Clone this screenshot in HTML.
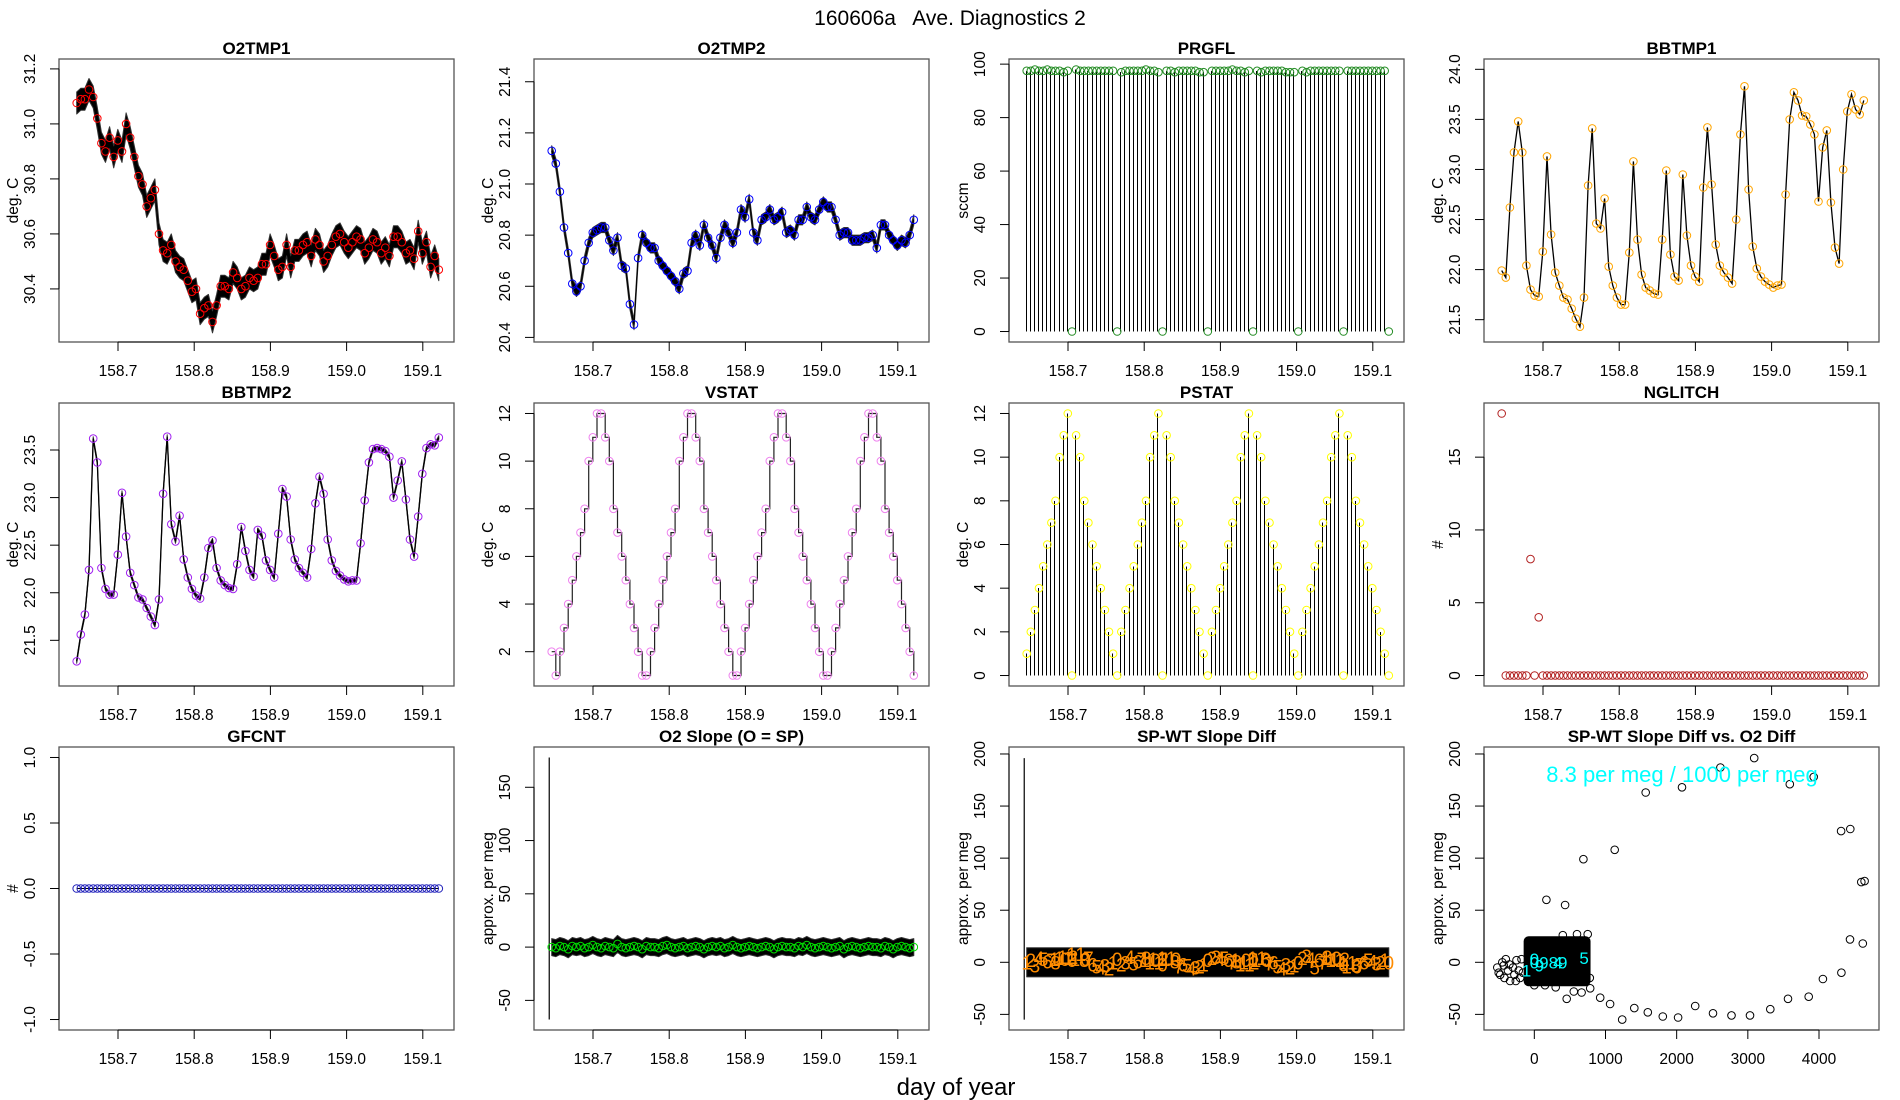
<!DOCTYPE html>
<html><head><meta charset="utf-8"><title>160606a Ave. Diagnostics 2</title>
<style>
html,body{margin:0;padding:0;background:#fff;}
svg{display:block;font-family:"Liberation Sans",Arial,sans-serif;}
text{font-family:"Liberation Sans",Arial,sans-serif;}
</style></head>
<body>
<svg id="chart" xmlns="http://www.w3.org/2000/svg" width="1900" height="1100" viewBox="0 0 1900 1100">
<rect x="0" y="0" width="1900" height="1100" fill="#fff"/>
<text x="950" y="25" font-size="21" text-anchor="middle" style="white-space:pre">160606a   Ave. Diagnostics 2</text>
<text x="956" y="1095" font-size="24" text-anchor="middle">day of year</text>
</svg>
<script>
// ---- shared sample times ----
const sampleStart = 158.6458;
const sampleStep = 0.0054;
const sampleCount = 89;
const xTickVals = [158.7, 158.8, 158.9, 159.0, 159.1];
const xTickLabels = ["158.7", "158.8", "158.9", "159.0", "159.1"];

// ---- series ----
const o2tmp1 = [31.076,31.09,31.09,31.125,31.098,31.02,30.93,30.90,30.95,30.88,
30.94,30.90,31.00,30.95,30.88,30.81,30.78,30.70,30.73,30.76,
30.60,30.54,30.53,30.56,30.50,30.48,30.47,30.43,30.39,30.40,
30.31,30.33,30.34,30.28,30.34,30.41,30.41,30.40,30.46,30.44,
30.40,30.41,30.44,30.43,30.44,30.49,30.49,30.56,30.52,30.47,
30.48,30.56,30.48,30.54,30.54,30.56,30.57,30.52,30.58,30.56,
30.50,30.52,30.56,30.59,30.60,30.57,30.55,30.57,30.59,30.58,
30.53,30.55,30.58,30.57,30.53,30.55,30.52,30.59,30.59,30.57,
30.53,30.54,30.51,30.61,30.53,30.57,30.48,30.52,30.47];
const o2tmp2 = [21.13,21.08,20.97,20.83,20.73,20.61,20.58,20.60,20.70,20.77,
20.81,20.82,20.83,20.83,20.78,20.74,20.79,20.68,20.67,20.53,
20.45,20.71,20.80,20.77,20.75,20.75,20.70,20.68,20.66,20.64,
20.62,20.59,20.65,20.66,20.77,20.80,20.76,20.84,20.79,20.76,
20.71,20.79,20.84,20.81,20.77,20.81,20.90,20.87,20.94,20.81,
20.78,20.86,20.87,20.90,20.86,20.87,20.89,20.81,20.82,20.80,
20.86,20.86,20.91,20.87,20.86,20.90,20.93,20.91,20.91,20.86,
20.80,20.81,20.81,20.78,20.78,20.78,20.79,20.79,20.80,20.75,
20.84,20.84,20.80,20.78,20.76,20.78,20.77,20.80,20.86];
const prgfl = [97.5,97.5,98,97.5,97.5,98,97.5,97.5,97.5,97,97.5,0,
98,97.5,97.5,97.5,97.5,97.5,97.5,97.5,97.5,97.5,0,
97,97.5,97.5,97.5,97.5,97.5,98,97.5,97.5,97,0,
97.5,97.5,97,97.5,97.5,97.5,97.5,97.5,97,97,0,
97.5,97.5,97.5,97.5,97.5,98,97.5,97.5,97,97.5,0,
97.5,97,97.5,97.5,97.5,97.5,97.5,97,97,97,0,
97.5,97,97.5,97.5,97.5,97.5,97.5,97.5,97.5,97.5,0,
97.5,97.5,97.5,97.5,97.5,97.5,97.5,97.5,97.5,97.5,0];
const bbtmp1 = [21.99,21.92,22.62,23.17,23.48,23.17,22.04,21.80,21.74,21.73,
22.18,23.13,22.35,21.97,21.84,21.72,21.70,21.61,21.51,21.43,
21.72,22.84,23.41,22.46,22.41,22.71,22.03,21.84,21.72,21.65,
21.65,22.17,23.08,22.30,21.95,21.82,21.79,21.76,21.75,22.30,
22.99,22.15,21.93,21.89,22.95,22.34,22.04,21.93,21.88,22.82,
23.42,22.85,22.25,22.04,21.97,21.92,21.86,22.50,23.35,23.83,
22.80,22.23,22.01,21.93,21.88,21.85,21.82,21.84,21.85,22.75,
23.50,23.77,23.69,23.54,23.53,23.45,23.35,22.68,23.22,23.39,
22.67,22.22,22.06,23.00,23.58,23.75,23.60,23.55,23.69];
const bbtmp2 = [21.28,21.56,21.77,22.24,23.62,23.37,22.26,22.04,21.98,21.98,
22.40,23.05,22.59,22.21,22.08,21.95,21.93,21.84,21.75,21.66,
21.93,23.04,23.64,22.72,22.54,22.81,22.35,22.16,22.04,21.97,
21.94,22.16,22.47,22.55,22.26,22.13,22.08,22.05,22.04,22.30,
22.69,22.44,22.24,22.17,22.66,22.60,22.34,22.24,22.16,22.62,
23.09,23.01,22.56,22.35,22.26,22.21,22.16,22.46,22.94,23.22,
23.04,22.56,22.34,22.23,22.18,22.14,22.12,22.13,22.13,22.52,
22.97,23.37,23.51,23.52,23.51,23.49,23.43,23.00,23.18,23.38,
22.98,22.56,22.38,22.80,23.25,23.52,23.56,23.55,23.63];
const vstat = [2,1,
2,3,4,5,6,7,8,10,11,12,12,11,10,8,7,6,5,4,3,2,1,1,
2,3,4,5,6,7,8,10,11,12,12,11,10,8,7,6,5,4,3,2,1,1,
2,3,4,5,6,7,8,10,11,12,12,11,10,8,7,6,5,4,3,2,1,1,
2,3,4,5,6,7,8,10,11,12,12,11,10,8,7,6,5,4,3,2,1];
const pstat = [1,2,3,4,5,6,7,8,10,11,12,0,11,10,8,7,6,5,4,3,2,1,0,
2,3,4,5,6,7,8,10,11,12,0,11,10,8,7,6,5,4,3,2,1,0,
2,3,4,5,6,7,8,10,11,12,0,11,10,8,7,6,5,4,3,2,1,0,
2,3,4,5,6,7,8,10,11,12,0,11,10,8,7,6,5,4,3,2,1,0];
const nglitch = [18,0,0,0,0,0,0,8,0,4,
0,0,0,0,0,0,0,0,0,0,0,0,0,0,0,0,0,0,0,0,
0,0,0,0,0,0,0,0,0,0,0,0,0,0,0,0,0,0,0,0,
0,0,0,0,0,0,0,0,0,0,0,0,0,0,0,0,0,0,0,0,
0,0,0,0,0,0,0,0,0,0,0,0,0,0,0,0,0,0,0];
const gfcnt = [0,0,0,0,0,0,0,0,0,0,0,0,0,0,0,0,0,0,0,0,0,0,0,0,0,0,0,0,0,0,
0,0,0,0,0,0,0,0,0,0,0,0,0,0,0,0,0,0,0,0,0,0,0,0,0,0,0,0,0,0,
0,0,0,0,0,0,0,0,0,0,0,0,0,0,0,0,0,0,0,0,0,0,0,0,0,0,0,0,0];
const o2slope = [0,-1,1,0,-2,1,0,1,-1,0,2,0,-1,1,0,-1,3,0,-1,0,1,0,-2,1,0,0,-1,1,2,0,
-1,0,1,-1,0,1,0,-2,0,1,0,1,-1,0,2,0,-1,0,1,0,-1,0,1,0,-2,0,1,0,0,-1,
1,0,2,0,-1,0,1,0,-1,0,1,-2,0,1,0,-1,0,1,0,0,-1,1,0,-2,0,1,0,-1,0];
const o2slopeSpike = [-68, 178];
const spwt = [0,2,-3,4,3,1,2,0,3,4,5,2,8,3,2,4,-2,-4,-5,-3,-6,0,3,-2,0,5,-1,1,3,4,
2,0,3,-2,4,3,1,-4,-2,-3,-6,-5,-4,-2,2,4,5,3,4,2,0,1,2,-2,0,3,4,2,3,-1,
0,-4,-6,-2,-5,-3,0,4,6,3,-5,2,0,5,4,2,3,-2,0,-4,-3,-2,0,2,1,-1,0,2,0];
const spwtSpike = [-55, 196];
// scatter panel
const scatX = [170,433,690,1130,1565,2075,2615,3090,3590,3925,4310,4440,4595,4640,4435,4615,4315,4055,3855,3565,3315,3030,2770,2510,2260,2020,1805,1595,1405,1235,1065,925,785,665,555,455,
-520,-480,-450,-420,-400,-370,-340,-300,-280,-250,-220,-200,-180,-160,-500,-430,-350,-260,0,150,300,20,400,600,750,780,450];
const scatY = [60,55,99,108,163,168,187,196,171,178,126,128,77,78,22,18,-10,-16,-33,-35,-45,-51,-51,-49,-42,-53,-52,-48,-44,-55,-40,-34,-25,-29,-28,-35,
-5,-12,0,-15,3,-8,-18,-5,-12,2,-8,-15,3,-10,-10,-3,-2,-18,-22,-22,-24,20,26,27,27,-15,-18];
const clusterBounds = [-150, 790, -23, 25];
const cyanLabelX = [-110, 0, 70, 200, 330, 700];
const cyanLabelY = [-8, 3, -3, 0, 0, 4];
const cyanLabelText = ["1", "0", "9", "0989", "4", "5"];

const NS = "http://www.w3.org/2000/svg";
const svg = document.getElementById("chart");
const XMIN = 158.62257, XMAX = 159.14094;
const colX = [59, 534, 1009, 1484], rowY = [59, 403, 747], BW = 395, BH = 283;
function el(tag, attrs, parent) {
  const e = document.createElementNS(NS, tag);
  for (const k in attrs) e.setAttribute(k, attrs[k]);
  parent.appendChild(e);
  return e;
}
function times(n) { const t = []; for (let i = 0; i < n; i++) t.push(sampleStart + i * sampleStep); return t; }

function panel(p) {
  const x0 = colX[p.col], y0 = rowY[p.row];
  const xlim = p.xlim || [XMIN, XMAX];
  const xs = v => x0 + (v - xlim[0]) / (xlim[1] - xlim[0]) * BW;
  const ys = v => y0 + BH - (v - p.ylim[0]) / (p.ylim[1] - p.ylim[0]) * BH;
  const g = el("g", {}, svg);
  
  
  const clip = el("clipPath", {id: "clip-" + p.name}, g);
  
  
  const cr = el("rect", {x: x0, y: y0, width: BW, height: BH}, clip);
  
  
  const plot = el("g", {"clip-path": "url(#clip-" + p.name + ")"}, g);
  
  
  const box = el("rect", {x: x0, y: y0, width: BW, height: BH, fill: "none", stroke: "#555", "stroke-width": 1.3}, g);
  
  
  const tt = el("text", {x: x0 + BW / 2, y: y0 - 5, "font-size": 17, "font-weight": "bold", "text-anchor": "middle"}, g);
  tt.textContent = p.title;
  
  
  const xt = p.xt || xTickVals, xtl = p.xtl || xTickLabels;
  const xa = el("line", {x1: xs(xt[0]), x2: xs(xt[xt.length - 1]), y1: y0 + BH, y2: y0 + BH, stroke: "#000", "stroke-width": 1}, g);
  
  
  xt.forEach((v, i) => {
    const tk = el("line", {x1: xs(v), x2: xs(v), y1: y0 + BH, y2: y0 + BH + 9, stroke: "#000"}, g);
    
    
    const tl = el("text", {x: xs(v), y: y0 + BH + 34, "font-size": 15.5, "text-anchor": "middle"}, g);
    tl.textContent = xtl[i];
    
    
  });
  const yt = p.yt;
  const ya = el("line", {x1: x0, x2: x0, y1: ys(yt[0]), y2: ys(yt[yt.length - 1]), stroke: "#000"}, g);
  
  
  yt.forEach((v, i) => {
    const tk = el("line", {x1: x0 - 9, x2: x0, y1: ys(v), y2: ys(v), stroke: "#000"}, g);
    
    
    const tl = el("text", {x: 0, y: 0, "font-size": 15.5, "text-anchor": "middle", transform: "translate(" + (x0 - 24) + "," + ys(v) + ") rotate(-90)"}, g);
    tl.textContent = p.ytl[i];
    
    
  });
  const yl = el("text", {x: 0, y: 0, "font-size": 15.5, "text-anchor": "middle", transform: "translate(" + (x0 - 41) + "," + (y0 + BH / 2) + ") rotate(-90)"}, g);
  yl.textContent = p.ylab;
  
  
  return {xs, ys, plot, g};
}

function line(ax, t, v, name, stroke, sw) {
  const pts = t.map((ti, i) => ax.xs(ti).toFixed(1) + "," + ax.ys(v[i]).toFixed(1)).join(" ");
  const pl = el("polyline", {points: pts, fill: "none", stroke: stroke || "#000", "stroke-width": sw || 1}, ax.plot);
  
  
}
function band(ax, t, v, amp, name) {
  const up = t.map((ti, i) => ax.xs(ti).toFixed(1) + "," + ax.ys(v[i] + amp).toFixed(1));
  const dn = t.map((ti, i) => ax.xs(ti).toFixed(1) + "," + ax.ys(v[i] - amp).toFixed(1)).reverse();
  const pg = el("polygon", {points: up.concat(dn).join(" "), fill: "#000", stroke: "#333", "stroke-width": 1, "stroke-linejoin": "round"}, ax.plot);
  
  
}
function circles(ax, t, v, color, name) {
  t.forEach((ti, i) => {
    if (v[i] === undefined) return;
    const c = el("circle", {cx: ax.xs(ti).toFixed(1), cy: ax.ys(v[i]).toFixed(1), r: 3.8, fill: "none", stroke: color, "stroke-width": 1}, ax.plot);
    
    
  });
}
function bars(ax, t, v, name) {
  t.forEach((ti, i) => {
    const x = Math.round(ax.xs(ti - sampleStep * 0.25)) + 0.5;
    const b = el("line", {x1: x, x2: x, y1: ax.ys(0), y2: ax.ys(v[i]), stroke: "#000", "stroke-width": 1, "shape-rendering": "crispEdges"}, ax.plot);
    
    
  });
}
function spike(ax, t, lohi, name) {
  const s = el("line", {x1: ax.xs(t), x2: ax.xs(t), y1: ax.ys(lohi[0]), y2: ax.ys(lohi[1]), stroke: "#000", "stroke-width": 1.2}, ax.plot);
  
  
}
function sub(arr) { return times(Math.min(arr.length, sampleCount)); }

let ax = panel({name: "o2tmp1", col: 0, row: 0, title: "O2TMP1", ylab: "deg. C", ylim: [30.207, 31.236], yt: [30.4, 30.6, 30.8, 31.0, 31.2], ytl: ["30.4", "30.6", "30.8", "31.0", "31.2"]});
band(ax, sub(o2tmp1), o2tmp1, 0.04, "o2tmp1-noise-band");
line(ax, sub(o2tmp1), o2tmp1, "o2tmp1-line");
circles(ax, sub(o2tmp1), o2tmp1, "#ff0000", "o2tmp1-point");

ax = panel({name: "o2tmp2", col: 1, row: 0, title: "O2TMP2", ylab: "deg. C", ylim: [20.382, 21.489], yt: [20.4, 20.6, 20.8, 21.0, 21.2, 21.4], ytl: ["20.4", "20.6", "20.8", "21.0", "21.2", "21.4"]});
band(ax, sub(o2tmp2), o2tmp2, 0.02, "o2tmp2-noise-band");
line(ax, sub(o2tmp2), o2tmp2, "o2tmp2-line");
circles(ax, sub(o2tmp2), o2tmp2, "#0000ff", "o2tmp2-point");

ax = panel({name: "prgfl", col: 2, row: 0, title: "PRGFL", ylab: "sccm", ylim: [-3.92, 101.92], yt: [0, 20, 40, 60, 80, 100], ytl: ["0", "20", "40", "60", "80", "100"]});
bars(ax, sub(prgfl), prgfl, "prgfl-bar");
circles(ax, sub(prgfl), prgfl, "#228b22", "prgfl-point");

ax = panel({name: "bbtmp1", col: 3, row: 0, title: "BBTMP1", ylab: "deg. C", ylim: [21.277, 24.103], yt: [21.5, 22.0, 22.5, 23.0, 23.5, 24.0], ytl: ["21.5", "22.0", "22.5", "23.0", "23.5", "24.0"]});
line(ax, sub(bbtmp1), bbtmp1, "bbtmp1-line", "#000", 1.3);
circles(ax, sub(bbtmp1), bbtmp1, "#ffa500", "bbtmp1-point");

ax = panel({name: "bbtmp2", col: 0, row: 1, title: "BBTMP2", ylab: "deg. C", ylim: [21.02, 23.994], yt: [21.5, 22.0, 22.5, 23.0, 23.5], ytl: ["21.5", "22.0", "22.5", "23.0", "23.5"]});
band(ax, sub(bbtmp2), bbtmp2, 0.02, "bbtmp2-noise-band");
line(ax, sub(bbtmp2), bbtmp2, "bbtmp2-line", "#000", 1.3);
circles(ax, sub(bbtmp2), bbtmp2, "#a020f0", "bbtmp2-point");

ax = panel({name: "vstat", col: 1, row: 1, title: "VSTAT", ylab: "deg. C", ylim: [0.56, 12.44], yt: [2, 4, 6, 8, 10, 12], ytl: ["2", "4", "6", "8", "10", "12"]});
{
  const t = sub(vstat);
  let pts = [];
  t.forEach((ti, i) => {
    pts.push(ax.xs(ti).toFixed(1) + "," + ax.ys(vstat[i]).toFixed(1));
    if (i < t.length - 1) pts.push(ax.xs(t[i + 1]).toFixed(1) + "," + ax.ys(vstat[i]).toFixed(1));
  });
  const sl = el("polyline", {points: pts.join(" "), fill: "none", stroke: "#222", "stroke-width": 1.2}, ax.plot);
  
  
  circles(ax, t, vstat, "#ee82ee", "vstat-point");
}

ax = panel({name: "pstat", col: 2, row: 1, title: "PSTAT", ylab: "deg. C", ylim: [-0.48, 12.48], yt: [0, 2, 4, 6, 8, 10, 12], ytl: ["0", "2", "4", "6", "8", "10", "12"]});
bars(ax, sub(pstat), pstat, "pstat-bar");
circles(ax, sub(pstat), pstat, "#ffff00", "pstat-point");

ax = panel({name: "nglitch", col: 3, row: 1, title: "NGLITCH", ylab: "#", ylim: [-0.72, 18.72], yt: [0, 5, 10, 15], ytl: ["0", "5", "10", "15"]});
circles(ax, sub(nglitch), nglitch, "#b22222", "nglitch-point");

ax = panel({name: "gfcnt", col: 0, row: 2, title: "GFCNT", ylab: "#", ylim: [-1.08, 1.08], yt: [-1, -0.5, 0, 0.5, 1], ytl: ["-1.0", "-0.5", "0.0", "0.5", "1.0"]});
line(ax, sub(gfcnt), gfcnt, "gfcnt-line");
circles(ax, sub(gfcnt), gfcnt, "#2222bb", "gfcnt-point");

ax = panel({name: "o2slope", col: 1, row: 2, title: "O2 Slope (O = SP)", ylab: "approx. per meg", ylim: [-77.8, 187.8], yt: [-50, 0, 50, 100, 150], ytl: ["-50", "0", "50", "100", "150"]});
band(ax, sub(o2slope), o2slope, 8, "o2slope-noise-band");
spike(ax, sampleStart - sampleStep * 0.6, o2slopeSpike, "o2slope-initial-spike");
circles(ax, sub(o2slope), o2slope, "#00e000", "o2slope-point");

ax = panel({name: "spwt", col: 2, row: 2, title: "SP-WT Slope Diff", ylab: "approx. per meg", ylim: [-65, 206.7], yt: [-50, 0, 50, 100, 150, 200], ytl: ["-50", "0", "50", "100", "150", "200"]});
{
  const t = sub(spwt);
  const zero = t.map(() => 0);
  band(ax, t, zero, 14, "spwt-noise-band");
  spike(ax, sampleStart - sampleStep * 0.6, spwtSpike, "spwt-initial-spike");
  t.forEach((ti, i) => {
    const lb = el("text", {x: ax.xs(ti).toFixed(1), y: (ax.ys(spwt[i]) + 7).toFixed(1), "font-size": 19, fill: "#ff8c00", "text-anchor": "middle"}, ax.plot);
    lb.textContent = String(pstat[i] !== undefined ? pstat[i] : 0);
    
    
  });
}

ax = panel({name: "scatter", col: 3, row: 2, title: "SP-WT Slope Diff vs. O2 Diff", ylab: "approx. per meg", xlim: [-707, 4843], xt: [0, 1000, 2000, 3000, 4000], xtl: ["0", "1000", "2000", "3000", "4000"], ylim: [-65, 206.7], yt: [-50, 0, 50, 100, 150, 200], ytl: ["-50", "0", "50", "100", "150", "200"]});
{
  const cb = clusterBounds;
  const r = el("rect", {x: ax.xs(cb[0]), y: ax.ys(cb[3]), width: ax.xs(cb[1]) - ax.xs(cb[0]), height: ax.ys(cb[2]) - ax.ys(cb[3]), rx: 5, fill: "#000"}, ax.plot);
  
  
  scatX.forEach((xv, i) => {
    const c = el("circle", {cx: ax.xs(xv).toFixed(1), cy: ax.ys(scatY[i]).toFixed(1), r: 3.8, fill: "none", stroke: "#000", "stroke-width": 1}, ax.plot);
    
    
  });
  cyanLabelX.forEach((xv, i) => {
    const t = el("text", {x: ax.xs(xv).toFixed(1), y: (ax.ys(cyanLabelY[i]) + 6).toFixed(1), "font-size": 17, fill: "#00ffff", "text-anchor": "middle"}, ax.plot);
    t.textContent = cyanLabelText[i];
    
    
  });
  const ann = el("text", {x: 1682, y: 782, "font-size": 22, fill: "#00ffff", "text-anchor": "middle"}, ax.g);
  ann.textContent = "8.3 per meg / 1000 per meg";
  
  
}
</script>
</body></html>
